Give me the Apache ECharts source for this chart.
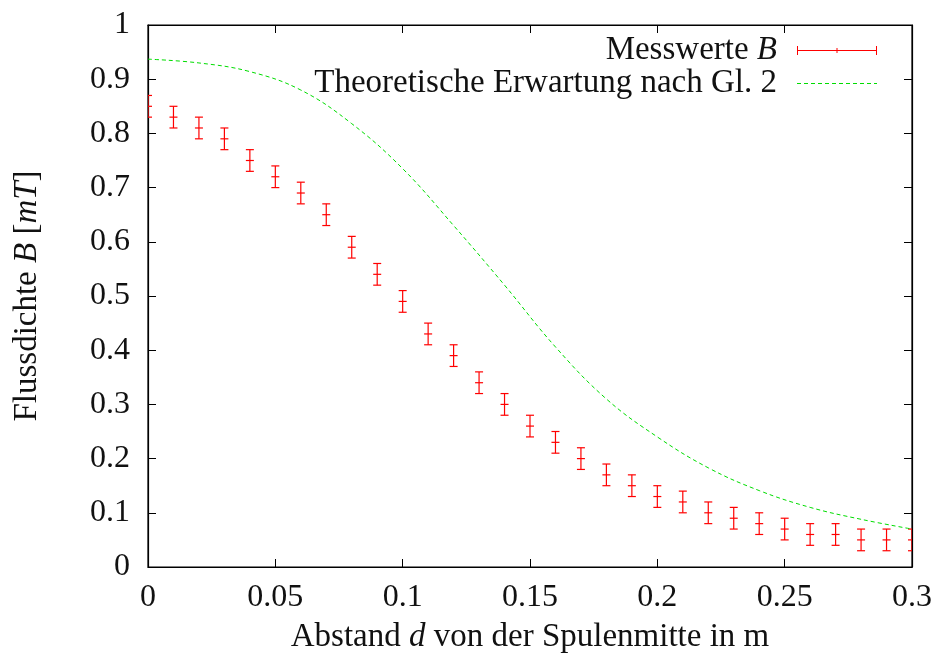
<!DOCTYPE html>
<html>
<head>
<meta charset="utf-8">
<script src="https://cdn.jsdelivr.net/npm/echarts@6/dist/echarts.min.js"></script>
<style>
  html, body { margin: 0; padding: 0; background: #fff; }
  #chart { width: 939px; height: 654px; }
</style>
</head>
<body>
<div id="chart"></div>
<script>
// Messwerte: Abstand d in m, Flussdichte B in mT, Fehler +-
const distances = [0, 0.01, 0.02, 0.03, 0.04, 0.05, 0.06, 0.07, 0.08, 0.09, 0.1,
  0.11, 0.12, 0.13, 0.14, 0.15, 0.16, 0.17, 0.18, 0.19, 0.2,
  0.21, 0.22, 0.23, 0.24, 0.25, 0.26, 0.27, 0.28, 0.29, 0.3];
const measured = [0.85, 0.83, 0.81, 0.79, 0.75, 0.72, 0.69, 0.65, 0.59, 0.54, 0.49,
  0.43, 0.39, 0.34, 0.30, 0.26, 0.23, 0.20, 0.17, 0.15, 0.13,
  0.12, 0.10, 0.09, 0.08, 0.07, 0.06, 0.06, 0.05, 0.05, 0.05];
const errors = [0.02, 0.02, 0.02, 0.02, 0.02, 0.02, 0.02, 0.02, 0.02, 0.02, 0.02,
  0.02, 0.02, 0.02, 0.02, 0.02, 0.02, 0.02, 0.02, 0.02, 0.02,
  0.02, 0.02, 0.02, 0.02, 0.02, 0.02, 0.02, 0.02, 0.02, 0.02];

// Theoretische Kurve
const theoryD = [0, 0.02, 0.04, 0.06, 0.08, 0.1, 0.12, 0.14, 0.16, 0.18, 0.2, 0.22, 0.24, 0.26, 0.28, 0.3];
const theoryB = [0.937, 0.930, 0.914, 0.880, 0.818, 0.735, 0.630, 0.520, 0.406, 0.310, 0.240, 0.183, 0.141, 0.110, 0.088, 0.070];

const xTicks = { min: 0, max: 0.3, interval: 0.05 };
const yTicks = { min: 0, max: 1, interval: 0.1 };

const serif = "'Liberation Serif', 'DejaVu Serif', serif";
const ink = "#111";

const chart = echarts.init(document.getElementById("chart"));

const errData = distances.map((d, i) => [d, measured[i], measured[i] - errors[i], measured[i] + errors[i]]);
const theoryData = theoryD.map((d, i) => [d, theoryB[i]]);

// legend icons (80 x 9)
const errIcon = "path://M0,4L80,4L80,5L0,5Z M0,0L1,0L1,9L0,9Z M79,0L80,0L80,9L79,9Z M39.5,2L40.5,2L40.5,7L39.5,7Z";
let dashIcon = "path://M0,0L0.01,0L0.01,0.01Z M80,9L79.99,9L79.99,8.99Z";
for (let x = 0; x < 80; x += 7) {
  const e = Math.min(x + 4, 80);
  dashIcon += ` M${x},4L${e},4L${e},5L${x},5Z`;
}

const italic = { fontFamily: serif, fontSize: 33, fontStyle: "italic", color: ink };

const frameLine = { show: true, onZero: false, lineStyle: { color: "#000", width: 1.2 } };
const frameTick = { show: true, inside: true, length: 8, lineStyle: { color: "#000", width: 1 } };

chart.setOption({
  animation: false,
  backgroundColor: "#fff",
  grid: {
    left: 148, right: 27, top: 25, bottom: 87,
    outerBoundsMode: "none",
    show: true, borderColor: "#000", borderWidth: 1.2,
  },
  legend: {
    orient: "vertical",
    right: 62,
    top: 34,
    padding: 0,
    align: "right",
    itemGap: 0,
    itemWidth: 80,
    itemHeight: 9,
    selectedMode: false,
    textStyle: {
      fontFamily: serif,
      fontSize: 33,
      lineHeight: 29,
      color: ink,
      padding: [0, 15, 0, 0],
      rich: { i: { ...italic, lineHeight: 29 } },
    },
    formatter: (name) => (name === "Messwerte B" ? "Messwerte {i|B}" : name),
    data: [
      { name: "Messwerte B", icon: errIcon, itemStyle: { color: "#ff0000" } },
      { name: "Theoretische Erwartung nach Gl. 2", icon: dashIcon, itemStyle: { color: "#00dd00" } },
    ],
  },
  xAxis: [
    {
      type: "value",
      min: xTicks.min,
      max: xTicks.max,
      interval: xTicks.interval,
      name: "Abstand {i|d} von der Spulenmitte in m",
      nameLocation: "middle",
      nameGap: 54,
      nameTextStyle: { fontFamily: serif, fontSize: 33, color: ink, rich: { i: italic } },
      axisLine: frameLine,
      axisTick: frameTick,
      axisLabel: { fontFamily: serif, fontSize: 32, color: ink, margin: 15 },
      splitLine: { show: false },
    },
    {
      type: "value",
      position: "top",
      min: xTicks.min,
      max: xTicks.max,
      interval: xTicks.interval,
      axisLine: frameLine,
      axisTick: frameTick,
      axisLabel: { show: false },
      splitLine: { show: false },
    },
  ],
  yAxis: [
    {
      type: "value",
      min: yTicks.min,
      max: yTicks.max,
      interval: yTicks.interval,
      name: "Flussdichte {i|B} [{i|mT}]",
      nameLocation: "middle",
      nameRotate: 90,
      nameGap: 104,
      nameTextStyle: { fontFamily: serif, fontSize: 33, color: ink, rich: { i: italic } },
      axisLine: frameLine,
      axisTick: frameTick,
      axisLabel: { fontFamily: serif, fontSize: 32, color: ink, margin: 18 },
      splitLine: { show: false },
    },
    {
      type: "value",
      position: "right",
      min: yTicks.min,
      max: yTicks.max,
      interval: yTicks.interval,
      axisLine: frameLine,
      axisTick: frameTick,
      axisLabel: { show: false },
      splitLine: { show: false },
    },
  ],
  series: [
    {
      name: "Messwerte B",
      type: "custom",
      clip: true,
      itemStyle: { color: "#ff0000" },
      data: errData,
      encode: { x: 0, y: [1, 2, 3] },
      renderItem: (params, api) => {
        const x = api.value(0);
        const mid = api.coord([x, api.value(1)]);
        const lo = api.coord([x, api.value(2)]);
        const hi = api.coord([x, api.value(3)]);
        const cap = 4;
        const tick = 4;
        const style = { stroke: "#ff0000", lineWidth: 1.2, fill: null };
        return {
          type: "group",
          children: [
            { type: "line", shape: { x1: lo[0], y1: lo[1], x2: hi[0], y2: hi[1] }, style },
            { type: "line", shape: { x1: lo[0] - cap, y1: lo[1], x2: lo[0] + cap, y2: lo[1] }, style },
            { type: "line", shape: { x1: hi[0] - cap, y1: hi[1], x2: hi[0] + cap, y2: hi[1] }, style },
            { type: "line", shape: { x1: mid[0] - tick, y1: mid[1], x2: mid[0] + tick, y2: mid[1] }, style },
          ],
        };
      },
    },
    {
      name: "Theoretische Erwartung nach Gl. 2",
      type: "line",
      data: theoryData,
      smooth: 0.4,
      symbol: "none",
      color: "#00dd00",
      lineStyle: { color: "#00dd00", width: 1, type: [4, 3] },
    },
    {
      // keeps the top and right frame axes in use
      name: "frame",
      type: "line",
      xAxisIndex: 1,
      yAxisIndex: 1,
      data: [],
      silent: true,
    },
  ],
});
</script>
</body>
</html>
